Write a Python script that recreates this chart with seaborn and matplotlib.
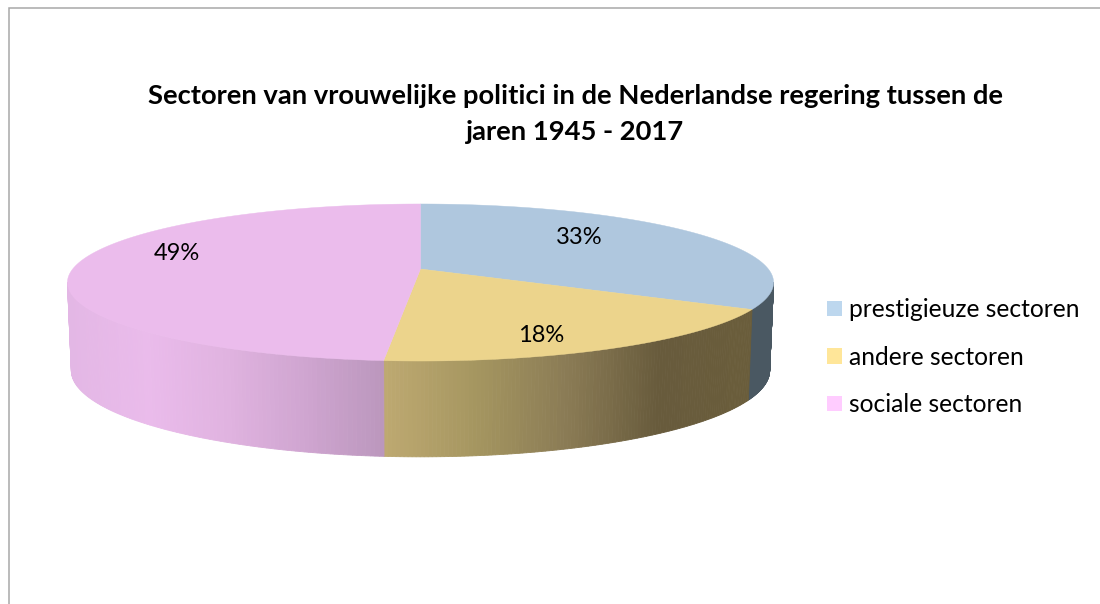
import numpy as np
import matplotlib
matplotlib.use("Agg")
import matplotlib.pyplot as plt
from matplotlib.patches import Patch
import seaborn as sns

title = "Sectoren van vrouwelijke politici in de Nederlandse regering tussen de\njaren 1945 - 2017"
sectors = ["prestigieuze sectoren", "andere sectoren", "sociale sectoren"]
shares = [33.1, 18.3, 48.6]

top_colors = ["#afc7de", "#ecd48c", "#ebbcec"]
legend_colors = ["#bdd7ee", "#ffe699", "#ffccff"]
side_stops = [
    ["#4a5862", "#4a5862"],
    ["#bea971", "#a59660", "#8a7b55", "#685b3c", "#6a5d3b"],
    ["#e3b7e5", "#eabbeb", "#e0b3e0", "#cfa5d0", "#bb97bd"],
]
label_pos = [(579, 237), (541, 335), (177, 253)]

FONT = ["Lato", "DejaVu Sans"]

# pie geometry in pixels, with a bit of perspective
CX, CY = 420.5, 269
A, B, K = 347.8, 76.2, 0.172
DEPTH, SCALE_X, SCALE_Y = 86.6, 0.989, 1.10


def top_point(t):
    x, y = np.sin(t), np.cos(t)
    w = 1 + K * y
    return x / w * A, -y / w * B


def rim(t):
    dx, dy = top_point(t)
    return CX + dx, CY + dy


def floor(t):
    dx, dy = top_point(t)
    return CX + SCALE_X * dx, CY + DEPTH + SCALE_Y * dy


sns.set_theme(style="white")
plt.rcParams["font.family"] = FONT

fig, ax = plt.subplots(figsize=(11, 6.04), dpi=100)
ax.set_position([0, 0, 1, 1])
ax.set_xlim(0, 1100)
ax.set_ylim(604, 0)
ax.axis("off")

# chart frame, only left and top show in the crop
ax.plot([8.5, 8.5, 1100], [604, 7.5, 7.5], color="#a8a8a8", lw=1.1, solid_joinstyle="miter")

edges = np.radians(np.concatenate([[0], np.cumsum(shares)]) / 100 * 360)
side_lo = np.pi / 2 + np.arcsin(K)
side_hi = 3 * np.pi / 2 - np.arcsin(K)

# side walls, split in thin strips for the gradient
for i in range(3):
    t0, t1 = max(edges[i], side_lo), min(edges[i + 1], side_hi)
    if t0 >= t1:
        continue
    cmap = sns.blend_palette(side_stops[i], n_colors=256, as_cmap=True)
    xa, xb = rim(t0)[0], rim(t1)[0]
    ts = np.linspace(t0, t1, 120)
    for a, b in zip(ts[:-1], ts[1:]):
        xs = [rim(a)[0], rim(b)[0], floor(b)[0], floor(a)[0]]
        ys = [rim(a)[1], rim(b)[1], floor(b)[1], floor(a)[1]]
        # gradient runs left to right on screen
        frac = (0.5 * (xs[0] + xs[1]) - min(xa, xb)) / abs(xb - xa)
        ax.fill(xs, ys, color=cmap(frac), lw=0.6, zorder=2)

# top face
for i in range(3):
    ts = np.linspace(edges[i], edges[i + 1], 200)
    xs = [CX] + [rim(t)[0] for t in ts]
    ys = [CY] + [rim(t)[1] for t in ts]
    ax.fill(xs, ys, color=top_colors[i], lw=0.3, zorder=3)

for i in range(3):
    ax.text(label_pos[i][0], label_pos[i][1], f"{shares[i]:.0f}%", ha="center", va="center",
            fontsize=17, color="black", zorder=4)

ax.text(575, 114, title, ha="center", va="center", fontsize=19.7, fontweight="bold",
        color="black", linespacing=1.55)

handles = [Patch(facecolor=c, edgecolor="none") for c in legend_colors]
ax.legend(handles, sectors, loc="upper left", bbox_to_anchor=(0.7518, 0.5065), frameon=False,
          fontsize=17.7, handlelength=0.61, handleheight=0.61, handletextpad=0.28,
          labelspacing=1.0, borderpad=0, borderaxespad=0, labelcolor="black")

fig.savefig("out.png", dpi=100)
